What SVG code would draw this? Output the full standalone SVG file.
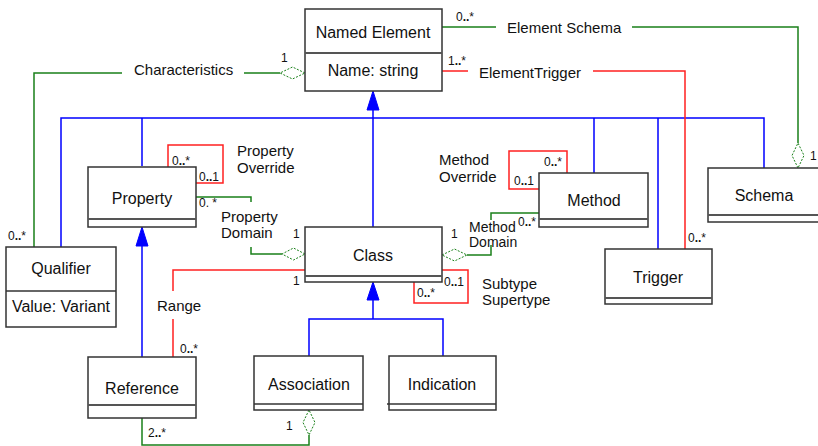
<svg xmlns="http://www.w3.org/2000/svg" width="818" height="446" viewBox="0 0 818 446">
<style>
.box{fill:#fff;stroke:#333;stroke-width:1.5}
.div{stroke:#555;stroke-width:2}
.nm{font-family:"Liberation Sans",Arial,sans-serif;font-size:16px;fill:#111;text-anchor:middle}
.lb{font-family:"Liberation Sans",Arial,sans-serif;font-size:15px;fill:#111}
.sm{font-family:"Liberation Sans",Arial,sans-serif;font-size:14px;fill:#111}
.mu{font-family:"Liberation Sans",Arial,sans-serif;font-size:12px;fill:#111}
.mu tspan{font-weight:bold}
.b{fill:none;stroke:#0000ff;stroke-width:1.5}
.g{fill:none;stroke:#1a801a;stroke-width:1.5}
.r{fill:none;stroke:#ff2020;stroke-width:1.5}
.dia{fill:#fff;stroke:#1a801a;stroke-width:1;stroke-dasharray:2,1.5}
.tri{fill:#0000ff;stroke:#0000ff}
</style>
<rect width="818" height="446" fill="#fff"/>
<g id="connectors">
  <path class="b" d="M373,110 V227 M61,247 V118 H764 V168 M142,166 V118 M594,173 V118 M658,249 V118"/>
  <polygon class="tri" points="373,91 367,110 379,110"/>
  <path class="b" d="M142,357 V246"/>
  <polygon class="tri" points="142,227 136,246 148,246"/>
  <path class="b" d="M373,300 V319 M309,356 V319 H443 V356"/>
  <polygon class="tri" points="373,282 367,300 379,300"/>
  <path class="g" d="M280,73 H244 M122,73 H34 V247"/>
  <polygon class="dia" points="305,73 292.5,67 280,73 292.5,79"/>
  <path class="g" d="M441,27 H496 M632,27 H798 V143"/>
  <polygon class="dia" points="798,168 792,155.5 798,143 804,155.5"/>
  <path class="r" d="M441,71 H468 M593,71 H685 V249"/>
  <path class="r" d="M168,167 V145 H223 V183 H196"/>
  <path class="g" d="M196,197 H251 V202 M251,247 V254 H282"/>
  <polygon class="dia" points="305,254 293.5,248 282,254 293.5,260"/>
  <path class="r" d="M305,270 H173 V291 M173,319 V357"/>
  <path class="g" d="M467,255 H491 V245 M491,220 V213 H539"/>
  <polygon class="dia" points="442,255 454.5,249 467,255 454.5,261"/>
  <path class="r" d="M567,173 V151 H509 V189 H539"/>
  <path class="r" d="M442,270 H468 V303 H414 V282"/>
  <path class="g" d="M309,435 V445 H142 V418"/>
  <polygon class="dia" points="309,410 303,422.5 309,435 315,422.5"/>
</g>
<g id="named-element">
  <rect class="box" x="305" y="9" width="137" height="82"/>
  <line class="div" x1="305" y1="53" x2="442" y2="53"/>
  <text class="nm" x="373" y="38">Named Element</text>
  <text class="nm" x="373" y="76">Name: string</text>
</g>
<g id="property">
  <rect class="box" x="88" y="167" width="108" height="60"/>
  <line class="div" x1="88" y1="219" x2="196" y2="219"/>
  <text class="nm" x="142" y="204">Property</text>
</g>
<g id="class">
  <rect class="box" x="305" y="227" width="137" height="55"/>
  <line class="div" x1="305" y1="276" x2="442" y2="276"/>
  <text class="nm" x="373" y="261">Class</text>
</g>
<g id="method">
  <rect class="box" x="539" y="173" width="109" height="54"/>
  <line class="div" x1="539" y1="219" x2="648" y2="219"/>
  <text class="nm" x="594" y="206">Method</text>
</g>
<g id="schema">
  <rect class="box" x="708" y="168" width="112" height="54"/>
  <line class="div" x1="708" y1="215" x2="820" y2="215"/>
  <text class="nm" x="764" y="201">Schema</text>
</g>
<g id="trigger">
  <rect class="box" x="605" y="249" width="107" height="55"/>
  <line class="div" x1="605" y1="298" x2="712" y2="298"/>
  <text class="nm" x="658" y="283">Trigger</text>
</g>
<g id="qualifier">
  <rect class="box" x="6" y="247" width="110" height="80"/>
  <line class="box" x1="6" y1="291" x2="116" y2="291"/>
  <text class="nm" x="61" y="274">Qualifier</text>
  <text class="nm" x="61" y="312">Value: Variant</text>
</g>
<g id="reference">
  <rect class="box" x="88" y="357" width="108" height="61"/>
  <line class="div" x1="88" y1="405" x2="196" y2="405"/>
  <text class="nm" x="142" y="394">Reference</text>
</g>
<g id="association">
  <rect class="box" x="254" y="356" width="109" height="54"/>
  <line class="box" x1="254" y1="404" x2="363" y2="404"/>
  <text class="nm" x="309" y="390">Association</text>
</g>
<g id="indication">
  <rect class="box" x="389" y="356" width="107" height="54"/>
  <line class="box" x1="387" y1="404" x2="496" y2="404"/>
  <text class="nm" x="442" y="390">Indication</text>
</g>
<g id="labels">
  <text class="lb" x="134" y="75">Characteristics</text>
  <text class="lb" x="507" y="33">Element Schema</text>
  <text class="lb" x="479" y="78">ElementTrigger</text>
  <text class="lb" x="237" y="156">Property</text>
  <text class="lb" x="237" y="173">Override</text>
  <text class="lb" x="221" y="222">Property</text>
  <text class="lb" x="221" y="238">Domain</text>
  <text class="lb" x="439" y="165">Method</text>
  <text class="lb" x="439" y="182">Override</text>
  <text class="sm" x="469" y="232">Method</text>
  <text class="sm" x="469" y="247">Domain</text>
  <text class="lb" x="482" y="289">Subtype</text>
  <text class="lb" x="482" y="305">Supertype</text>
  <text class="lb" x="157" y="311">Range</text>
</g>
<g id="multiplicities">
  <text class="mu" x="456" y="21">0<tspan>..</tspan>*</text>
  <text class="mu" x="448" y="65">1<tspan>..</tspan>*</text>
  <text class="mu" x="281" y="62">1</text>
  <text class="mu" x="8" y="240">0<tspan>..</tspan>*</text>
  <text class="mu" x="172" y="165">0<tspan>..</tspan>*</text>
  <text class="mu" x="199" y="181">0<tspan>..</tspan>1</text>
  <text class="mu" x="199" y="207">0. *</text>
  <text class="mu" x="293" y="238">1</text>
  <text class="mu" x="293" y="285">1</text>
  <text class="mu" x="451" y="238">1</text>
  <text class="mu" x="518" y="226">0<tspan>..</tspan>*</text>
  <text class="mu" x="544" y="166">0<tspan>..</tspan>*</text>
  <text class="mu" x="514" y="185">0<tspan>..</tspan>1</text>
  <text class="mu" x="444" y="286">0<tspan>..</tspan>1</text>
  <text class="mu" x="417" y="297">0<tspan>..</tspan>*</text>
  <text class="mu" x="810" y="160">1</text>
  <text class="mu" x="688" y="242">0<tspan>..</tspan>*</text>
  <text class="mu" x="180" y="353">0<tspan>..</tspan>*</text>
  <text class="mu" x="148" y="437">2<tspan>..</tspan>*</text>
  <text class="mu" x="286" y="430">1</text>
</g>
</svg>
